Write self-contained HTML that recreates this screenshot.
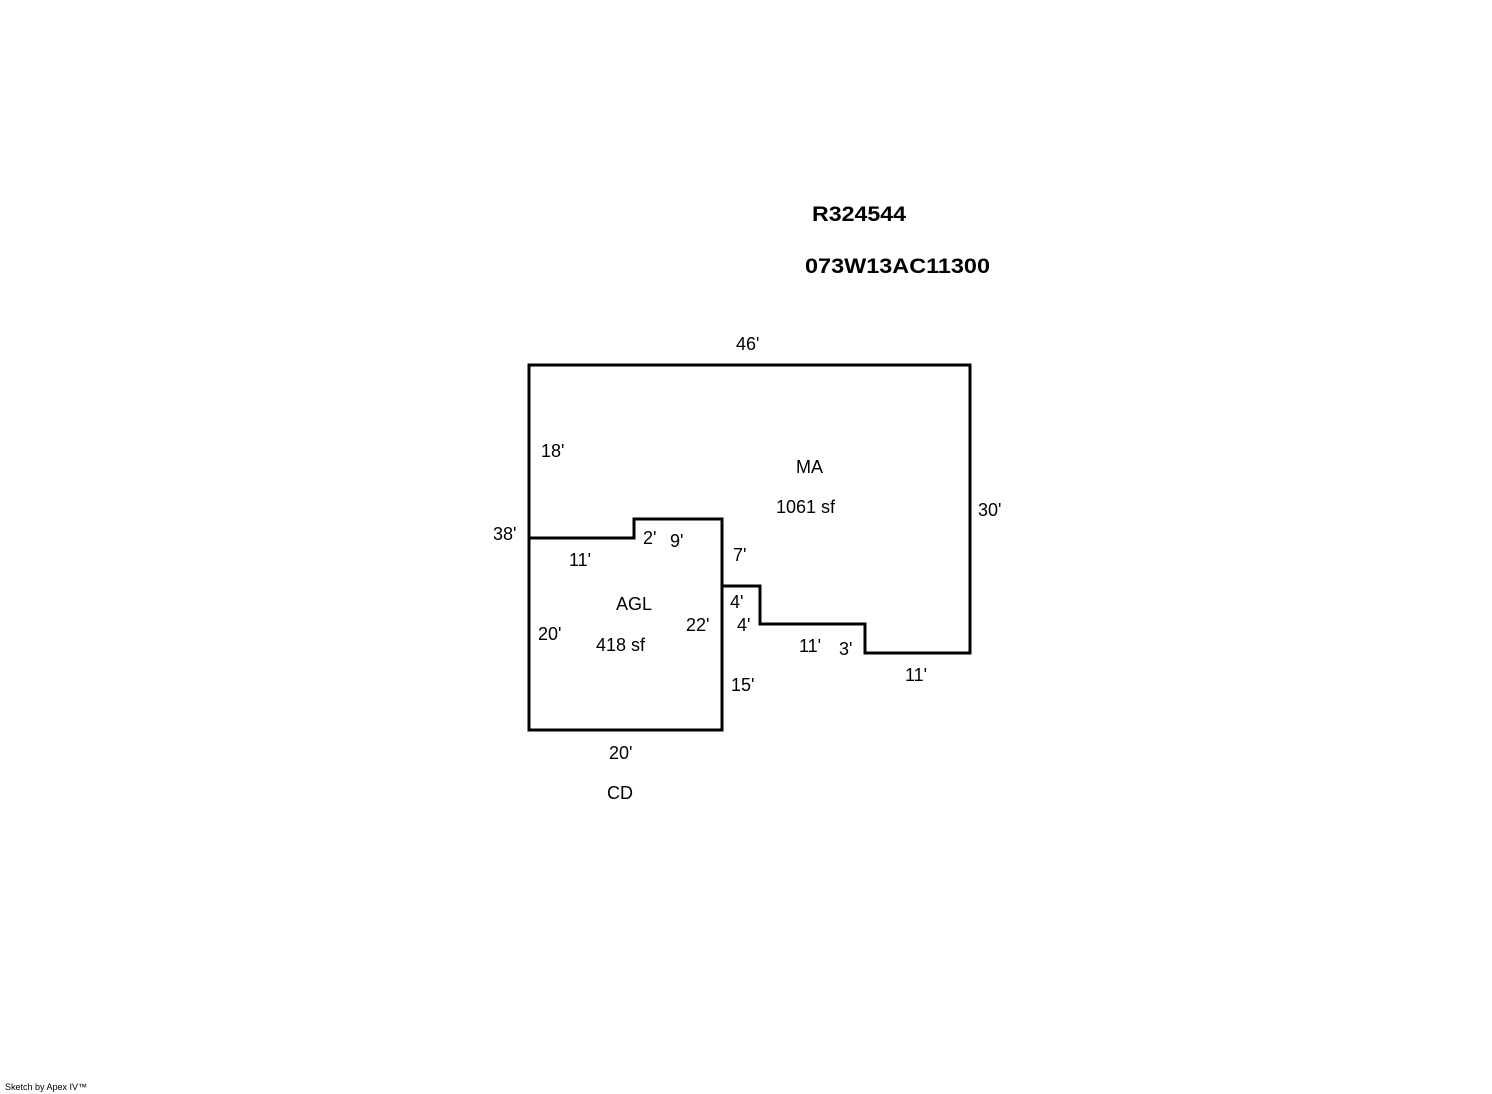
<!DOCTYPE html>
<html><head><meta charset="utf-8"><style>
html,body{margin:0;padding:0;background:#fff;}
svg{display:block;}
text{font-family:"Liberation Sans",Arial,sans-serif;font-size:18px;fill:#000;}
.b{font-weight:bold;font-size:21px;}
</style></head><body>
<svg width="1492" height="1094" viewBox="0 0 1492 1094" xmlns="http://www.w3.org/2000/svg">
<g fill="none" stroke="#000" stroke-width="3" stroke-linejoin="miter">
<polygon points="529,365 970,365 970,653 865,653 865,624 760,624 760,586 722,586 722,519 634,519 634,538 529,538"/>
<polyline points="529,538 529,730 722,730 722,586"/>
</g>
<g transform="translate(0,-1)">
<text class="b" x="812" y="222" textLength="94" lengthAdjust="spacingAndGlyphs">R324544</text>
<text class="b" x="805" y="274" textLength="185" lengthAdjust="spacingAndGlyphs">073W13AC11300</text>
<text x="736" y="351">46'</text>
<text x="541" y="458">18'</text>
<text x="796" y="474">MA</text>
<text x="776" y="514">1061 sf</text>
<text x="978" y="517">30'</text>
<text x="493" y="541">38'</text>
<text x="643" y="545">2'</text>
<text x="670" y="548">9'</text>
<text x="569" y="567">11'</text>
<text x="733" y="562">7'</text>
<text x="616" y="611">AGL</text>
<text x="730" y="609">4'</text>
<text x="737" y="632">4'</text>
<text x="686" y="632">22'</text>
<text x="538" y="641">20'</text>
<text x="596" y="652">418 sf</text>
<text x="799" y="653">11'</text>
<text x="839" y="656">3'</text>
<text x="905" y="682">11'</text>
<text x="731" y="692">15'</text>
<text x="609" y="760">20'</text>
<text x="607" y="800">CD</text>
<text x="5" y="1091" style="font-size:9px">Sketch by Apex IV™</text>
</g>
</svg>
</body></html>
